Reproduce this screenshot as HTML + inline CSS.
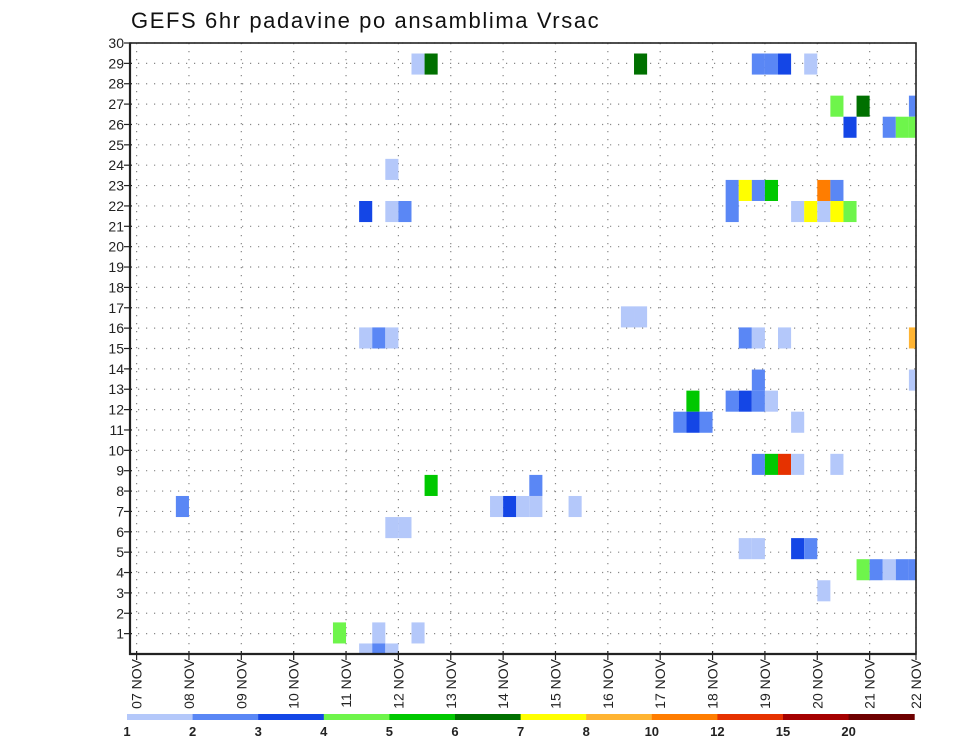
<!DOCTYPE html>
<html><head><meta charset="utf-8"><style>
html,body{margin:0;padding:0;background:#fff;}
svg text{font-family:"Liberation Sans",sans-serif;}
</style></head><body>
<svg id="chart" width="960" height="742" viewBox="0 0 960 742" xmlns="http://www.w3.org/2000/svg">
<defs><clipPath id="pc"><rect x="130" y="43" width="786" height="611"/></clipPath></defs>
<text x="131" y="28" font-size="22" letter-spacing="1.6" fill="#111">GEFS 6hr padavine po ansamblima Vrsac</text>
<g id="grid"></g>
<g id="cells" clip-path="url(#pc)"></g>
<g id="axes"></g>
<g id="cbar"></g>
</svg>
<script>
const dayLabels=["07","08","09","10","11","12","13","14","15","16","17","18","19","20","21","22"];
const yTicks=[1,2,3,4,5,6,7,8,9,10,11,12,13,14,15,16,17,18,19,20,21,22,23,24,25,26,27,28,29,30];
const cellStep=[21,22,38,47,48,49,51, 53,55,59, 54,57,58,59, 19, 45,46,47,48,52,53, 45,17,19,20,50,51,52,53,54, 37,38, 17,18,19,46,47,49,59, 47,59, 42,45,46,47,48, 41,42,43,50, 47,48,49,50,53, 22,30, 3,27,28,29,30,33, 19,20, 46,47,50,51, 55,56,57,58,59, 52, 15,18,21, 17,18,19];
const cellMember=[28,28,28,28,28,28,28, 26,26,26, 25,25,25,25, 23, 22,22,22,22,22,22, 21,21,21,21,21,21,21,21,21, 16,16, 15,15,15,15,15,15,15, 13,13, 12,12,12,12,12, 11,11,11,11, 9,9,9,9,9, 8,8, 7,7,7,7,7,7, 6,6, 5,5,5,5, 4,4,4,4,4, 3, 1,1,1, 0,0,0];
const cellLevel=[1,6,6,2,2,3,1, 4,6,2, 3,2,4,4, 1, 2,7,2,5,9,2, 2,3,1,2,1,7,1,7,4, 1,1, 1,2,1,2,1,1,8, 2,1, 5,2,3,2,1, 2,3,2,1, 2,5,10,1,1, 5,2, 2,1,3,1,1,1, 1,1, 1,1,3,2, 4,2,1,2,2, 1, 4,1,1, 1,2,1];
const levelColors=["#b4c8fa","#5a87f5","#1446e6","#6ef54b","#00c800","#007000","#ffff00","#ffb432","#ff7d00","#e63200","#a50000","#6e0000"];
const cbarLabels=["1","2","3","4","5","6","7","8","10","12","15","20"];

const NS="http://www.w3.org/2000/svg";
const L=130,R=916,T=43,B=654;
const X0=136.6, STEP=13.09;
function xStep(i){return X0+i*STEP;}
function xDay(d){return Math.min(X0+d*4*STEP,R);}
function yAxis(v){return B-v*(B-T)/30;}
const MH=21.07;
function yMember(m){return B-m*MH;}
function mk(tag,attrs,parent){const e=document.createElementNS(NS,tag);for(const k in attrs)e.setAttribute(k,attrs[k]);parent.appendChild(e);return e;}

const grid=document.getElementById('grid');
yTicks.forEach(v=>{
  const l=mk('line',{x1:L,x2:R,y1:yAxis(v),y2:yAxis(v),stroke:'#888','stroke-width':1.2,'stroke-dasharray':'1.2 6.8'},grid);
  
  
});
dayLabels.forEach((d,k)=>{
  const l=mk('line',{x1:xDay(k),x2:xDay(k),y1:T,y2:B,stroke:'#888','stroke-width':1.2,'stroke-dasharray':'1.2 6.8'},grid);
  
  
});

const cells=document.getElementById('cells');
cellStep.forEach((s,n)=>{
  const r=mk('rect',{x:xStep(s),y:yMember(cellMember[n])-MH/2,width:STEP,height:MH,fill:levelColors[cellLevel[n]-1]},cells);
  
  
});

const axes=document.getElementById('axes');
const fr=mk('rect',{x:L,y:T,width:R-L,height:B-T,fill:'none',stroke:'#222','stroke-width':1.6},axes);


mk('line',{x1:L,x2:L,y1:T,y2:B+1,stroke:'#222','stroke-width':2.2},axes);
mk('line',{x1:L-1,x2:R,y1:B,y2:B,stroke:'#222','stroke-width':2.2},axes);
yTicks.forEach(v=>{
  mk('line',{x1:L-6,x2:L+2,y1:yAxis(v),y2:yAxis(v),stroke:'#222','stroke-width':1.2},axes);
  const t=mk('text',{x:L-6,y:yAxis(v)+5,'text-anchor':'end','font-size':14,fill:'#222'},axes);
  t.textContent=v;
  
  
});
dayLabels.forEach((d,k)=>{
  const x=xDay(k);
  mk('line',{x1:x,x2:x,y1:B-3,y2:B+6,stroke:'#222','stroke-width':1.2},axes);
  const t=mk('text',{x:0,y:0,'text-anchor':'end','font-size':14,fill:'#222',transform:`translate(${x+5},${B+5}) rotate(-90)`},axes);
  t.textContent=d+" NOV";
  
  
});

const cb=document.getElementById('cbar');
const CW=65.6, CX=127;
levelColors.forEach((c,k)=>{
  const r=mk('rect',{x:CX+k*CW,y:714,width:CW+0.5,height:6,fill:c},cb);
  
  
});
cbarLabels.forEach((s,k)=>{
  const t=mk('text',{x:CX+k*CW,y:736,'text-anchor':'middle','font-size':13,'font-weight':'bold',fill:'#222'},cb);
  t.textContent=s;
  
  
});
</script>
</body></html>
